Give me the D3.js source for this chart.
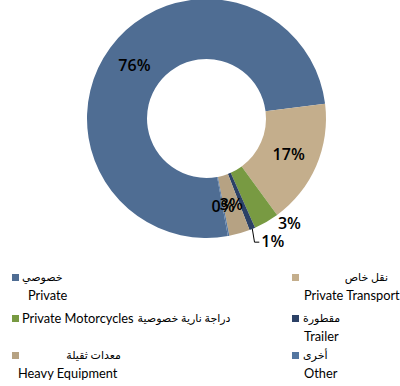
<!DOCTYPE html>
<html>
<head>
<meta charset="utf-8">
<script src="https://cdn.jsdelivr.net/npm/d3@7"></script>
<style>
  body { margin: 0; background: #fff; }
  svg { display: block; font-family: Lato, "DejaVu Sans", sans-serif; }
</style>
</head>
<body>
<svg id="chart" width="400" height="386"></svg>
<script>
// Vehicle categories and their shares (%)
const categories   = ["Private", "Private Transport", "Private Motorcycles", "Trailer", "Heavy Equipment", "Other"];
const categoriesAr = ["خصوصي", "نقل خاص", "دراجة نارية خصوصية", "مقطورة", "معدات ثقيلة", "أخرى"];
const shares       = [75.9, 16.9, 3.4, 0.8, 2.8, 0.2];
const colors       = ["#4f6d93", "#c4ae8c", "#789a42", "#2c4166", "#b6a283", "#5476a0"];

const svg = d3.select("#chart");

// Donut geometry
const cx = 206.5, cy = 118.5, outerR = 119.5, innerR = 59.5;
const firstSliceDeg = 169.7;
const a0 = firstSliceDeg * Math.PI / 180;

const pie = d3.pie().sort(null).value(d => d).startAngle(a0).endAngle(a0 + 2 * Math.PI);
const arcs = pie(shares);
const arc = d3.arc().innerRadius(innerR).outerRadius(outerR);
const total = d3.sum(shares);

const g = svg.append("g").attr("transform", `translate(${cx},${cy})`);

g.selectAll("path.slice")
  .data(arcs)
  .join("path")
  .attr("class", "slice")
  .attr("d", arc)
  .attr("fill", (d, i) => colors[i]);

// Labels sit at slice centroids; the two narrow slices get pushed outward
const labelShift = { 2: [38, 27], 3: [32, 40] };
const labelPos = arcs.map((d, i) => {
  const c = arc.centroid(d);
  const s = labelShift[i] || [0, 0];
  return [c[0] + s[0], c[1] + s[1]];
});

// Leader line for the Trailer label
{
  const i = 3, d = arcs[i];
  const mid = (d.startAngle + d.endAngle) / 2;
  const p0 = [Math.sin(mid) * outerR, -Math.cos(mid) * outerR];
  const [lx, ly] = labelPos[i];
  const pts = [p0, [p0[0] + 2.2, ly + 1], [lx - 13.5, ly + 1]];
  g.append("path")
    .attr("d", d3.line()(pts))
    .attr("fill", "none")
    .attr("stroke", "#000")
    .attr("stroke-width", 1);
}

g.selectAll("text.pct")
  .data(arcs)
  .join("text")
  .attr("class", "pct")
  .attr("x", (d, i) => labelPos[i][0])
  .attr("y", (d, i) => labelPos[i][1])
  .attr("dy", "0.36em")
  .attr("text-anchor", "middle")
  .attr("font-family", "'Open Sans', sans-serif")
  .attr("font-size", 16)
  .attr("font-weight", 600)
  .attr("fill", "#000")
  .text(d => Math.round(d.value / total * 100) + "%");

// Legend: two columns, three rows
const colX = [12, 292];
const rowY = [277.5, 318.5, 355.5];
const sq = 7;
// per-entry text placement relative to its column
const legendText = [
  { ar: { dx: 10, anchor: "start" }, en: { dx: 16 } },
  { ar: { dx: 96, anchor: "end" }, en: { dx: 12 } },
  { single: true, dx: 10 },
  { ar: { dx: 11, anchor: "start" }, en: { dx: 12 } },
  { ar: { dx: 109, anchor: "end" }, en: { dx: 6 } },
  { ar: { dx: 11, anchor: "start" }, en: { dx: 12 } }
];

const leg = svg.append("g").attr("font-size", 12.8).attr("fill", "#000");
categories.forEach((name, i) => {
  const x = colX[i % 2];
  const y = rowY[Math.floor(i / 2)];
  const item = leg.append("g");
  item.append("rect")
    .attr("x", x).attr("y", y - sq / 2)
    .attr("width", sq).attr("height", sq)
    .attr("fill", colors[i]);
  const t = legendText[i];
  if (t.single) {
    const en = item.append("text")
      .attr("x", x + t.dx).attr("y", y).attr("dy", "0.35em")
      .text(name);
    const w = en.node().getComputedTextLength();
    item.append("text")
      .attr("x", x + t.dx + w + 4).attr("y", y).attr("dy", "0.35em")
      .attr("font-size", 11)
      .attr("direction", "rtl").attr("text-anchor", "end")
      .text(categoriesAr[i]);
  } else {
    item.append("text")
      .attr("x", x + t.ar.dx).attr("y", y).attr("dy", "0.35em")
      .attr("font-size", 11)
      .attr("direction", "rtl")
      .attr("text-anchor", t.ar.anchor === "start" ? "end" : "start")
      .text(categoriesAr[i]);
    item.append("text")
      .attr("x", x + t.en.dx).attr("y", y + 18).attr("dy", "0.35em")
      .text(name);
  }
});
</script>
</body>
</html>
